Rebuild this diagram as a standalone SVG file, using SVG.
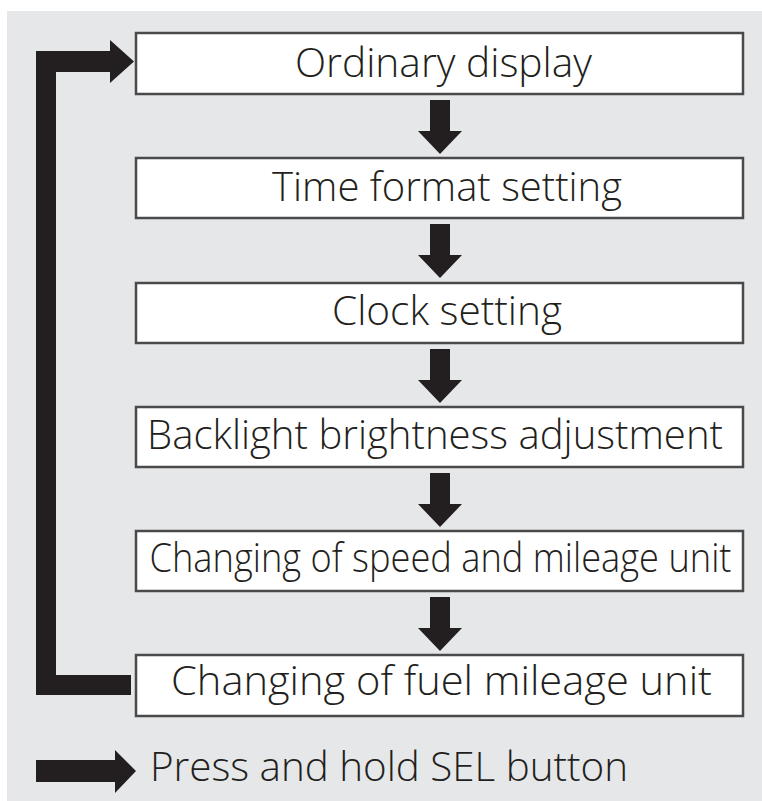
<svg xmlns="http://www.w3.org/2000/svg" width="762" height="801" viewBox="0 0 762 801">
<style>
.bg{fill:#e6e7e8}
.box{fill:#ffffff;stroke:#4a4a4a;stroke-width:2.5}
.lbl{font-family:"Open Sans","Noto Sans","Liberation Sans",sans-serif;font-size:40px;font-weight:300;fill:#231f20;text-anchor:middle}
.arr{fill:#231f20}
</style>
<defs>
<path id="down" d="M-10,0 H10 V31 H22 L0,54 L-22,31 H-10 Z"/>
</defs>
<rect x="0" y="0" width="762" height="801" fill="#ffffff"/>
<rect class="bg" x="7" y="11" width="755" height="790"/>
<g id="node1"><rect class="box" x="136" y="33" width="607" height="61"/><text class="lbl" x="443.5" y="77" textLength="297" lengthAdjust="spacingAndGlyphs">Ordinary display</text></g>
<g id="node2"><rect class="box" x="136" y="158" width="607" height="60"/><text class="lbl" x="447" y="201" textLength="350" lengthAdjust="spacingAndGlyphs">Time format setting</text></g>
<g id="node3"><rect class="box" x="136" y="283" width="607" height="60"/><text class="lbl" x="447" y="325" textLength="230" lengthAdjust="spacingAndGlyphs">Clock setting</text></g>
<g id="node4"><rect class="box" x="136" y="407" width="607" height="60"/><text class="lbl" x="435" y="449" textLength="576" lengthAdjust="spacingAndGlyphs">Backlight brightness adjustment</text></g>
<g id="node5"><rect class="box" x="136" y="531" width="607" height="60"/><text class="lbl" x="440.5" y="572" textLength="582" lengthAdjust="spacingAndGlyphs">Changing of speed and mileage unit</text></g>
<g id="node6"><rect class="box" x="136" y="655" width="607" height="61"/><text class="lbl" x="441.5" y="695" textLength="541" lengthAdjust="spacingAndGlyphs">Changing of fuel mileage unit</text></g>
<g id="connectors">
<use href="#down" class="arr" x="440" y="100"/>
<use href="#down" class="arr" x="440" y="224"/>
<use href="#down" class="arr" x="440" y="349"/>
<use href="#down" class="arr" x="440" y="473"/>
<use href="#down" class="arr" x="440" y="597"/>
<path class="arr" d="M131,675 L56,675 L56,72 L110,72 L110,83 L134,61.5 L110,40 L110,51 L36,51 L36,695 L131,695 Z"/>
</g>
<g id="legend">
<path class="arr" d="M36,760 H115 V750 L136,771 L115,793 V782 H36 Z"/>
<text class="lbl" x="389" y="781" textLength="478" lengthAdjust="spacingAndGlyphs">Press and hold SEL button</text>
</g>
</svg>
